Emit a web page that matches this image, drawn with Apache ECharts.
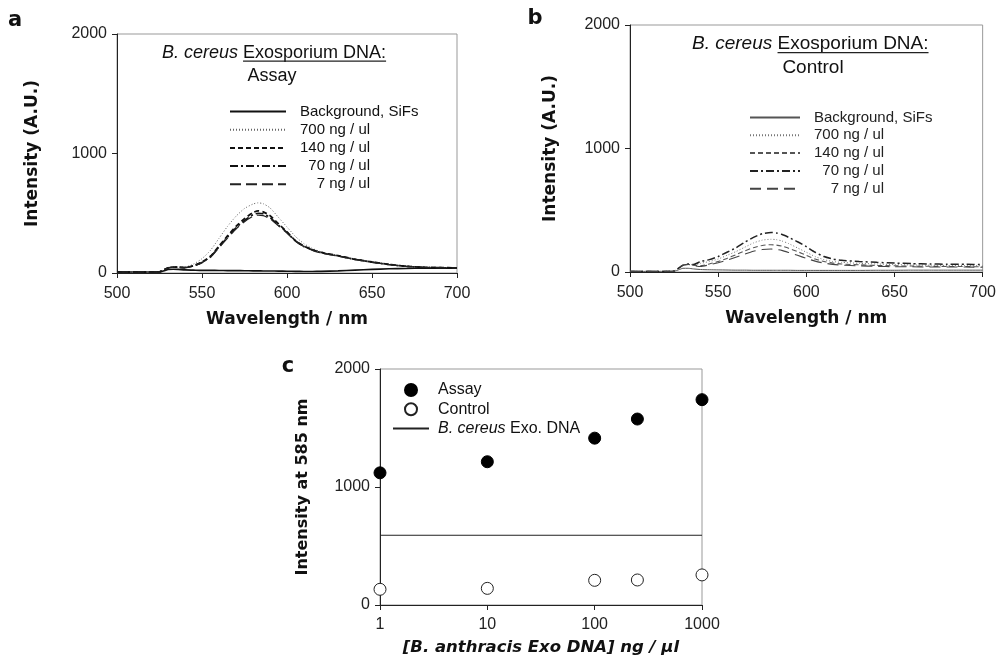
<!DOCTYPE html>
<html><head><meta charset="utf-8">
<script src="https://cdn.jsdelivr.net/npm/echarts@6/dist/echarts.min.js"></script>
<style>html,body{margin:0;padding:0;background:#fff}#c{width:999px;height:657px}</style>
</head><body><div id="c"></div>
<script>
// ---- data ----
const wavelength = [500,510,520,525,528,530,533,536,540,545,550,555,560,565,570,575,580,583,586,590,595,600,605,610,615,620,630,640,650,660,670,680,690,700];

// panel a: assay spectra
const aBackground = [8,8,8,9,20,30,32,30,26,24,22,22,21,20,20,19,18,18,17,17,16,15,14,13,13,14,18,24,30,35,38,40,40,40];
const a700 = [8,8,8,10,30,42,50,50,50,75,120,190,290,390,475,540,577,587,580,545,465,385,305,245,205,178,142,115,95,75,60,50,46,44];
const a140 = [8,8,8,10,30,42,50,48,45,62,92,140,225,310,390,455,505,520,512,480,410,345,270,225,195,172,145,115,92,72,56,48,45,43];
const a70  = [8,8,8,10,30,42,50,48,45,60,88,135,218,300,378,440,488,500,495,465,400,340,268,222,193,170,143,114,91,71,56,48,45,43];
const a7   = [8,8,8,10,30,42,50,48,45,58,86,132,212,292,368,430,475,485,480,455,395,335,265,220,190,168,142,113,90,70,55,47,44,42];

// panel b: control spectra
const bBackground = [5,5,5,6,20,30,30,25,20,18,17,16,15,15,14,14,14,14,14,14,13,13,13,13,13,13,13,14,14,15,15,15,15,15];
const b700 = [5,5,5,8,35,55,62,58,70,85,105,135,165,200,235,258,265,262,252,230,195,160,125,100,85,78,70,65,60,57,55,53,52,50];
const b140 = [5,5,5,8,35,55,62,55,50,65,85,110,140,170,197,215,221,218,210,192,165,135,105,85,72,65,58,53,50,48,46,45,44,42];
const b70  = [5,5,5,8,35,55,65,60,85,100,125,160,195,240,280,310,320,315,305,280,245,205,160,125,105,95,85,78,72,68,65,63,62,60];
const b7   = [5,5,5,8,35,55,62,52,45,58,75,95,120,145,168,182,186,182,175,158,135,110,88,72,62,56,50,46,43,42,40,40,40,38];

// panel c: intensity at 585 nm
const concentration = [1, 10, 100, 250, 1000];
const assay585 = [1120, 1214, 1414, 1576, 1740];
const control585 = [133, 141, 209, 212, 255];
const cereusLevel = 591;

const namesA = ['Background, SiFs', '700 ng / ul', '140 ng / ul', '  70 ng / ul', '    7 ng / ul'];
const namesB = ['Background, SiFs ', '700 ng / ul ', '140 ng / ul ', '  70 ng / ul ', '    7 ng / ul '];
const namesC = ['Assay', 'Control', 'B. cereus Exo. DNA'];

// ---- chart ----
const chart = echarts.init(document.getElementById('c'), null, {renderer: 'canvas'});
const pair = v => wavelength.map((w, i) => [w, v[i]]);

const TICK_FONT = 'Liberation Sans';
const NAME_FONT = 'DejaVu Sans';
const plain = v => String(v);

function valueAxisX(gridIndex, name, gap) {
  return {
    type: 'value', gridIndex, min: 500, max: 700, interval: 50,
    name, nameLocation: 'middle', nameGap: gap,
    nameTextStyle: {fontFamily: NAME_FONT, fontWeight: 'bold', fontSize: 17, color: '#111'},
    axisLine: {show: true, lineStyle: {color: '#222', width: 1}},
    axisTick: {show: true, inside: false, length: 5, lineStyle: {color: '#222'}},
    axisLabel: {fontFamily: TICK_FONT, fontSize: 16, color: '#222', margin: 13, formatter: plain},
    splitLine: {show: false}
  };
}
function valueAxisY(gridIndex, name, gap, nameSize) {
  return {
    type: 'value', gridIndex, min: 0, max: 2000, interval: 1000,
    name, nameLocation: 'middle', nameGap: gap,
    nameTextStyle: {fontFamily: NAME_FONT, fontWeight: 'bold', fontSize: nameSize || 17, color: '#111'},
    axisLine: {show: true, lineStyle: {color: '#222', width: 1}},
    axisTick: {show: true, inside: false, length: 5, lineStyle: {color: '#222'}},
    axisLabel: {fontFamily: TICK_FONT, fontSize: 16, color: '#222', margin: 10, formatter: plain},
    splitLine: {show: false}
  };
}

function lineSeries(name, data, idx, color, width, type) {
  return {
    name, type: 'line', xAxisIndex: idx, yAxisIndex: idx,
    data: pair(data), symbol: 'none', smooth: 0.2,
    lineStyle: {color, width, type}, itemStyle: {color},
    silent: true, animation: false, z: 3
  };
}

const seriesA = [
  lineSeries(namesA[0], aBackground, 0, '#111', 1.6, 'solid'),
  lineSeries(namesA[1], a700, 0, '#666', 1, [1, 2]),
  lineSeries(namesA[2], a140, 0, '#111', 1.8, [5, 3]),
  lineSeries(namesA[3], a70, 0, '#111', 1.6, [8, 3, 2, 3]),
  lineSeries(namesA[4], a7, 0, '#222', 1.3, [11, 5])
];
const seriesB = [
  lineSeries(namesB[0], bBackground, 1, '#555', 1, 'solid'),
  lineSeries(namesB[1], b700, 1, '#777', 1, [1, 2]),
  lineSeries(namesB[2], b140, 1, '#555', 1.1, [5, 3]),
  lineSeries(namesB[3], b70, 1, '#222', 1.5, [8, 3, 2, 3]),
  lineSeries(namesB[4], b7, 1, '#444', 1.1, [11, 6])
];
const seriesC = [
  {name: namesC[0], type: 'scatter', xAxisIndex: 2, yAxisIndex: 2,
   data: concentration.map((c, i) => [c, assay585[i]]), symbol: 'circle', symbolSize: 12,
   itemStyle: {color: '#000', borderColor: '#000', borderWidth: 1, opacity: 1}, clip: false, z: 4},
  {name: namesC[1], type: 'scatter', xAxisIndex: 2, yAxisIndex: 2,
   data: concentration.map((c, i) => [c, control585[i]]), symbol: 'circle', symbolSize: 12,
   itemStyle: {color: '#fff', borderColor: '#222', borderWidth: 1, opacity: 1}, clip: false, z: 4},
  {name: namesC[2], type: 'line', xAxisIndex: 2, yAxisIndex: 2,
   data: [[concentration[0], cereusLevel], [concentration[concentration.length - 1], cereusLevel]],
   symbol: 'none', lineStyle: {color: '#222', width: 1}, itemStyle: {color: '#222'}, z: 3}
];

// title helpers
const meas = document.createElement('canvas').getContext('2d');
function tw(txt, font) { meas.font = font; return meas.measureText(txt).width; }
function titleGraphics(x, y, size, sub, subX, subY) {
  const italicW = tw('B. cereus ', 'italic ' + size + 'px "Liberation Sans"');
  const uW = tw('Exosporium DNA:', size + 'px "Liberation Sans"');
  return [
    {type: 'text', x, y, style: {
      text: '{i|B. cereus }{n|Exosporium DNA:}', verticalAlign: 'middle', align: 'left',
      rich: {i: {fontStyle: 'italic', fontSize: size, fontFamily: 'Liberation Sans', fill: '#111'},
             n: {fontSize: size, fontFamily: 'Liberation Sans', fill: '#111'}}}},
    {type: 'line', shape: {x1: x + italicW, y1: y + size * 0.45, x2: x + italicW + uW, y2: y + size * 0.45},
     style: {stroke: '#222', lineWidth: 1.2}},
    {type: 'text', x: subX, y: subY, style: {text: sub, align: 'center', verticalAlign: 'middle',
      fontSize: size, fontFamily: 'Liberation Sans', fill: '#111'}}
  ];
}
function letter(t, x, y) {
  return {type: 'text', x, y, style: {text: t, align: 'center', verticalAlign: 'middle',
    fontSize: 21, fontWeight: 'bold', fontFamily: NAME_FONT, fill: '#111'}};
}
const noSym = n => ({name: n, itemStyle: {opacity: 0}});

const option = {
  backgroundColor: '#fff',
  animation: false,
  grid: [
    {left: 117, top: 34, width: 340, height: 239, show: true, borderColor: '#999', borderWidth: 1, backgroundColor: 'transparent'},
    {left: 630, top: 25, width: 355, height: 247, show: true, borderColor: '#999', borderWidth: 1, backgroundColor: 'transparent'},
    {left: 380, top: 369, width: 322, height: 236, show: true, borderColor: '#999', borderWidth: 1, backgroundColor: 'transparent'}
  ],
  xAxis: [
    valueAxisX(0, 'Wavelength / nm', 38),
    valueAxisX(1, 'Wavelength / nm', 38),
    {type: 'log', logBase: 10, gridIndex: 2, min: 1, max: 1000,
     name: '[B. anthracis Exo DNA] ng / μl', nameLocation: 'middle', nameGap: 34,
     nameTextStyle: {fontFamily: NAME_FONT, fontWeight: 'bold', fontStyle: 'italic', fontSize: 16.5, color: '#111'},
     axisLine: {show: true, lineStyle: {color: '#222'}},
     axisTick: {show: true, length: 5, lineStyle: {color: '#222'}},
     minorTick: {show: false},
     axisLabel: {fontFamily: TICK_FONT, fontSize: 16, color: '#222', margin: 12, formatter: plain},
     splitLine: {show: false}}
  ],
  yAxis: [
    valueAxisY(0, 'Intensity (A.U.)', 76),
    valueAxisY(1, 'Intensity (A.U.)', 71),
    valueAxisY(2, 'Intensity at 585 nm', 69, 16)
  ],
  legend: [
    {data: namesA.map(noSym), left: 224, top: 99, orient: 'vertical', itemWidth: 56, itemHeight: 14, itemGap: 3.2,
     textStyle: {fontFamily: 'Liberation Sans', fontSize: 15, color: '#111', padding: [0, 0, 0, 9]},
     selectedMode: false},
    {data: namesB.map(noSym), left: 744, top: 105, orient: 'vertical', itemWidth: 50, itemHeight: 14, itemGap: 2.8,
     textStyle: {fontFamily: 'Liberation Sans', fontSize: 15, color: '#222', padding: [0, 0, 0, 9]},
     selectedMode: false},
    {data: [
       {name: namesC[0], icon: 'circle'},
       {name: namesC[1], icon: 'circle'},
       noSym(namesC[2])
     ], left: 387, top: 377, orient: 'vertical', itemWidth: 36, itemHeight: 12, itemGap: 3.2,
     formatter: n => n === namesC[2] ? '{i|B. cereus} Exo. DNA' : n,
     textStyle: {fontFamily: 'Liberation Sans', fontSize: 16, color: '#111', padding: [0, 0, 0, 4],
       rich: {i: {fontStyle: 'italic', fontFamily: 'Liberation Sans', fontSize: 16, color: '#111'}}},
     selectedMode: false}
  ],
  graphic: [].concat(
    titleGraphics(162, 53, 18, 'Assay', 272, 76),
    titleGraphics(692, 44, 19, 'Control', 813, 68),
    [letter('a', 15, 21), letter('b', 535, 19), letter('c', 288, 367)]
  ),
  series: [].concat(seriesA, seriesB, seriesC)
};
chart.setOption(option);
</script>
</body></html>
